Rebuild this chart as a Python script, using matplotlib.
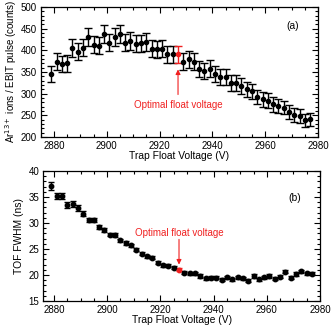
import matplotlib
matplotlib.use("Agg")
import matplotlib.pyplot as plt
from matplotlib.ticker import MultipleLocator

plt.rcParams['font.family'] = ['Liberation Sans', 'DejaVu Sans']

voltage = list(range(2879, 2979, 2))
counts = [345, 374, 368, 370, 405, 397, 406, 431, 413, 411,
          438, 418, 431, 438, 418, 422, 415, 416, 419, 404,
          402, 404, 391, 391, 391, 374, 379, 374, 357, 352,
          358, 345, 338, 338, 325, 324, 318, 310, 305, 292,
          287, 284, 275, 272, 268, 258, 251, 248, 239, 241]
counts_err = [18, 19, 19, 19, 20, 20, 20, 21, 20, 20,
              21, 20, 21, 21, 20, 21, 20, 20, 20, 20,
              20, 20, 20, 20, 20, 19, 19, 19, 19, 19,
              19, 19, 18, 18, 18, 18, 18, 18, 17, 17,
              17, 17, 17, 16, 16, 16, 16, 16, 15, 15]
fwhm = [37.1, 35.25, 35.2, 33.4, 33.65, 32.9, 31.8, 30.6, 30.6, 29.2,
        28.7, 27.75, 27.7, 26.65, 26.15, 25.7, 24.85, 24.1, 23.6, 23.3,
        22.4, 21.85, 21.8, 21.4, 21.0, 20.45, 20.3, 20.3, 19.8, 19.4,
        19.5, 19.45, 19.1, 19.6, 19.2, 19.6, 19.4, 18.9, 19.8, 19.2,
        19.55, 19.8, 19.3, 19.7, 20.6, 19.5, 20.2, 20.7, 20.3, 20.25]
fwhm_err = [0.8, 0.6, 0.6, 0.6, 0.5, 0.5, 0.45, 0.4, 0.4, 0.35,
            0.35, 0.3, 0.3, 0.3, 0.3, 0.3, 0.3, 0.3, 0.3, 0.3,
            0.3, 0.3, 0.3, 0.3, 0.3, 0.3, 0.3, 0.3, 0.3, 0.3,
            0.3, 0.3, 0.3, 0.3, 0.3, 0.3, 0.3, 0.3, 0.3, 0.3,
            0.3, 0.3, 0.3, 0.3, 0.3, 0.3, 0.3, 0.3, 0.3, 0.3]
optimal_voltage = 2927
annot_text = "Optimal float voltage"
RED = "#f02020"

LABEL_FS = 7.0
XLABEL_FS = 7.4
TICK_FS = 7.0

fig = plt.figure(figsize=(3.32, 3.25), dpi=100)
ax1 = fig.add_axes([0.1226, 0.5785, 0.8352, 0.40])
ax2 = fig.add_axes([0.1304, 0.0738, 0.8336, 0.40])

iopt = voltage.index(optimal_voltage)

def style(ax, xmaj, xmin, ymaj, ymin):
    ax.xaxis.set_major_locator(MultipleLocator(xmaj))
    ax.xaxis.set_minor_locator(MultipleLocator(xmin))
    ax.yaxis.set_major_locator(MultipleLocator(ymaj))
    ax.yaxis.set_minor_locator(MultipleLocator(ymin))
    ax.tick_params(which='both', direction='in', top=True, right=True,
                   labelsize=TICK_FS, width=0.8)
    ax.tick_params(axis='x', pad=3.0)
    ax.tick_params(axis='y', pad=3)
    ax.tick_params(which='major', length=4)
    ax.tick_params(which='minor', length=2.2)
    for s in ax.spines.values():
        s.set_linewidth(0.9)

# top panel
for i in range(len(voltage)):
    c = RED if i == iopt else 'black'
    ax1.errorbar(voltage[i], counts[i], yerr=counts_err[i], fmt='o', ms=3.0,
                 color=c, ecolor=c, elinewidth=1.0, capsize=3.2, capthick=1.0)
ax1.set_xlim(2875, 2980)
ax1.set_ylim(200, 500)
style(ax1, 20, 5, 50, 10)
ax1.set_xlabel("Trap Float Voltage (V)", fontsize=XLABEL_FS, labelpad=0.0)
ax1.set_ylabel("Ar$^{13+}$ ions / EBIT pulse (counts)", fontsize=LABEL_FS, labelpad=1)
ax1.text(0.93, 0.85, "(a)", transform=ax1.transAxes, fontsize=XLABEL_FS, ha='right', va='center')
ax1.annotate("", xy=(optimal_voltage, 356), xytext=(optimal_voltage, 298),
             arrowprops=dict(arrowstyle='-|>', color=RED, lw=0.8,
                             mutation_scale=7, shrinkA=0, shrinkB=0))
ax1.text(optimal_voltage, 274, annot_text, color=RED, fontsize=TICK_FS,
         ha='center', va='center')

# bottom panel
for i in range(len(voltage)):
    c = RED if i == iopt else 'black'
    ax2.errorbar(voltage[i], fwhm[i], yerr=fwhm_err[i], fmt='o', ms=3.2,
                 color=c, ecolor=c, elinewidth=1.0, capsize=2.3, capthick=1.0)
ax2.set_xlim(2876, 2980)
ax2.set_ylim(15, 40)
style(ax2, 20, 5, 5, 1)
ax2.set_xlabel("Trap Float Voltage (V)", fontsize=XLABEL_FS, labelpad=0.0)
ax2.set_ylabel("TOF FWHM (ns)", fontsize=XLABEL_FS, labelpad=3)
ax2.text(0.93, 0.79, "(b)", transform=ax2.transAxes, fontsize=XLABEL_FS, ha='right', va='center')
ax2.annotate("", xy=(optimal_voltage, 22.0), xytext=(optimal_voltage, 26.85),
             arrowprops=dict(arrowstyle='-|>', color=RED, lw=0.8,
                             mutation_scale=7, shrinkA=0, shrinkB=0))
ax2.text(optimal_voltage, 28.1, annot_text, color=RED, fontsize=TICK_FS,
         ha='center', va='center')

fig.savefig("out.png", dpi=100)
